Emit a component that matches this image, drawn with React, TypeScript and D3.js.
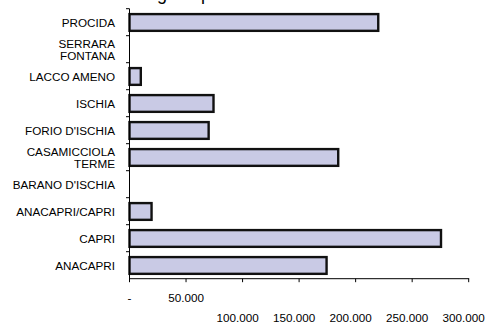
import React from "react";
import * as d3 from "d3";

// Categories listed from bottom to top of the chart
const categories: string[][] = [
  ["ANACAPRI"],
  ["CAPRI"],
  ["ANACAPRI/CAPRI"],
  ["BARANO D'ISCHIA"],
  ["CASAMICCIOLA", "TERME"],
  ["FORIO D'ISCHIA"],
  ["ISCHIA"],
  ["LACCO AMENO"],
  ["SERRARA", "FONTANA"],
  ["PROCIDA"],
];
const values: number[] = [174300, 275500, 19500, 0, 184600, 70000, 74300, 10000, 0, 220000];
const xTicks: number[] = [0, 50000, 100000, 150000, 200000, 250000, 300000];
const xTickLabels: string[] = ["-", "50.000", "100.000", "150.000", "200.000", "250.000", "300.000"];
const titleText = "Traffico nel golfo per comune";

const W = 488;
const H = 322;
const FONT = "Arial, 'Liberation Sans', sans-serif";

export default function App() {
  const keys = categories.map((c) => c.join(" "));
  const x = d3.scaleLinear().domain([0, 300000]).range([129.5, 468.7]);
  const y = d3.scaleBand<string>().domain([...keys].reverse()).range([8.7, 278.7]).padding(0);
  const step = y.step();
  const barInset = step * 0.2;
  const barH = step * 0.62;
  const y0 = 278.7;

  const boundaries = d3.range(0, keys.length + 1).map((i) => 8.7 + i * step);

  return (
    <svg
      width={W}
      height={H}
      style={{ position: "absolute", left: 0, top: 0, display: "block", background: "#fff" }}
      fontFamily={FONT}
    >
      <rect width={W} height={H} fill="#fff" />
      <text x={64} y={0} fontSize={18} fill="#000">
        {titleText}
      </text>

      {/* bars */}
      {keys.map((k, i) => (
        values[i] > 0 ? (
          <rect
            key={k}
            x={x(0)}
            y={(y(k) as number) + barInset}
            width={x(values[i]) - x(0)}
            height={barH}
            fill="#C9CAE5"
            stroke="#111"
            strokeWidth={2.4}
          />
        ) : null
      ))}

      {/* y axis */}
      <line x1={x(0)} x2={x(0)} y1={8.7} y2={y0 + 3} stroke="#000" strokeWidth={1} />
      {boundaries.slice(0, -1).map((b, i) => (
        <line key={"yt" + i} x1={x(0) - 3.5} x2={x(0)} y1={b} y2={b} stroke="#000" strokeWidth={1} />
      ))}

      {/* x axis */}
      <line x1={x(0)} x2={x(300000) + 0.5} y1={y0} y2={y0} stroke="#000" strokeWidth={1} />
      {xTicks.map((t) => (
        <line key={"xt" + t} x1={x(t)} x2={x(t)} y1={y0} y2={y0 + 3.5} stroke="#000" strokeWidth={1} />
      ))}
      {xTicks.map((t, i) => (
        <text
          key={"xl" + t}
          x={i < 2 ? x(t) : x(t) - 5}
          y={i < 2 ? 301.7 : 321.5}
          fontSize={11.7}
          textAnchor="middle"
          fill="#000"
        >
          {xTickLabels[i]}
        </text>
      ))}

      {/* category labels */}
      {categories.map((lines, i) => {
        const c = (y(keys[i]) as number) + step / 2;
        return (
          <text key={"cl" + i} x={115} fontSize={11.7} textAnchor="end" fill="#000">
            {lines.length === 1 ? (
              <tspan x={115} y={c + 5}>{lines[0]}</tspan>
            ) : (
              lines.map((ln, j) => (
                <tspan key={j} x={115} y={c - 1.5 + j * 12.7}>{ln}</tspan>
              ))
            )}
          </text>
        );
      })}
    </svg>
  );
}
